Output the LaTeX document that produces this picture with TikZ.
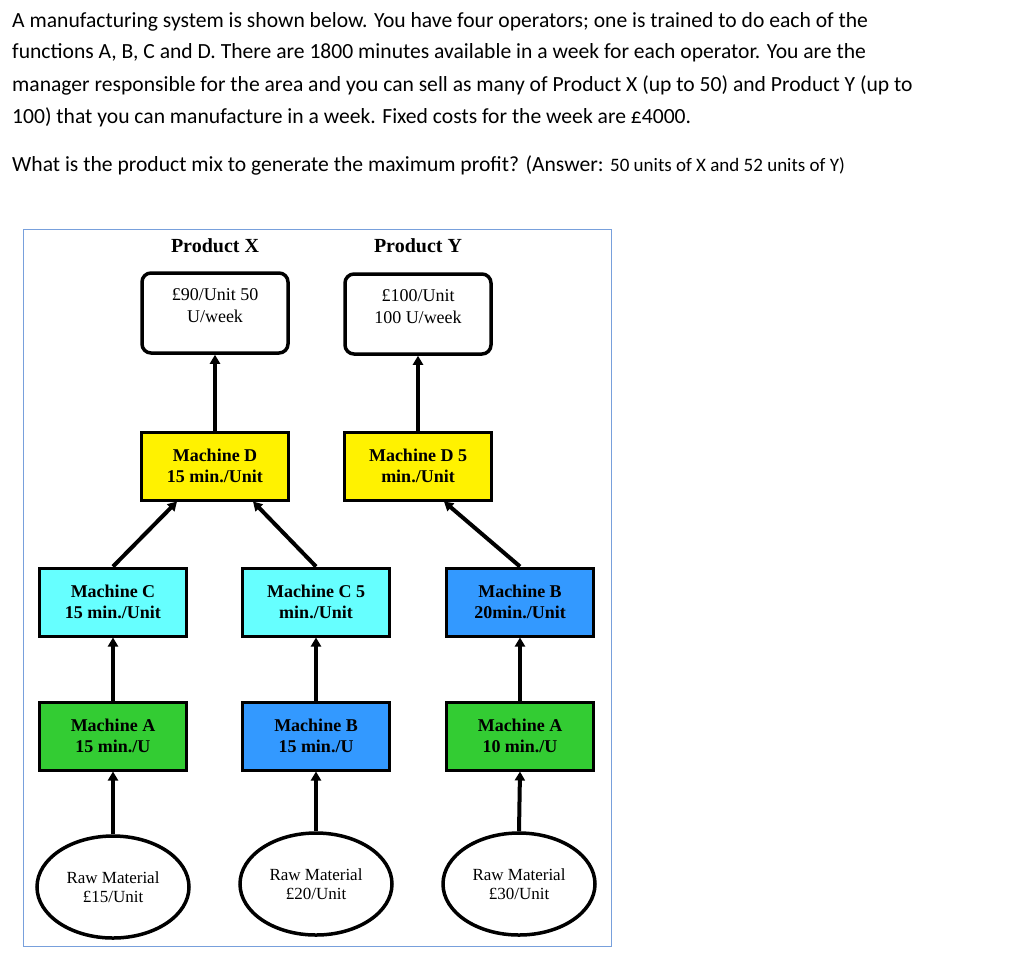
\documentclass[tikz,border=0pt]{standalone}
\usepackage{fontspec}
\setmainfont{Liberation Serif}
\newfontfamily\calfont{Carlito}
\usetikzlibrary{shapes.geometric,arrows.meta}
\begin{document}
\begin{tikzpicture}[x=1pt,y=-1pt,
 box/.style={draw,line width=3pt,minimum width=147pt,minimum height=68pt,align=center,font=\fontsize{18}{21}\selectfont\bfseries,inner sep=2pt},
 prod/.style={draw,line width=3.5pt,rounded corners=9pt,minimum width=146pt,minimum height=80pt,align=center,font=\fontsize{18}{22}\selectfont,text depth=14pt},
 raw/.style={draw,ellipse,line width=3.5pt,minimum width=152pt,minimum height=102pt,align=center,font=\fontsize{17}{19}\selectfont},
 arr/.style={line width=4pt,-{Triangle[length=9pt,width=10pt]}},
 qtext/.style={anchor=west,font=\calfont\fontsize{21.6}{24}\selectfont,inner sep=0pt}]
\useasboundingbox (0,0) rectangle (1024,967);
\node[qtext] (t1) at (12,22) {A manufacturing system is shown below. You have four operators; one is trained to do each of the};
\node[qtext] (t2) at (12,53) {functions A, B, C and D. There are 1800 minutes available in a week for each operator. You are the};
\node[qtext] (t3) at (12,85) {manager responsible for the area and you can sell as many of Product X (up to 50) and Product Y (up to};
\node[qtext] (t4) at (12,117) {100) that you can manufacture in a week. Fixed costs for the week are £4000.};
\node[qtext] (t5) at (12,165) {What is the product mix to generate the maximum profit? (Answer: {\fontsize{19}{20}\selectfont 50 units of X and 52 units of Y)}};
\draw[draw={rgb,255:red,120;green,160;blue,220},line width=1pt] (23,229) rectangle (611,946);
\node[font=\fontsize{20}{22}\selectfont\bfseries] (px) at (215,246) {Product X};
\node[font=\fontsize{20}{22}\selectfont\bfseries] (py) at (418,246) {Product Y};
\node[prod] (bx) at (215,313) {£90/Unit 50\\U/week};
\node[prod] (by) at (418,314) {£100/Unit\\100 U/week};
\node[box,fill=yellow] (dx) at (215,466) {Machine D\\15 min./Unit};
\node[box,fill=yellow] (dy) at (418,466) {Machine D 5\\min./Unit};
\node[box,fill={rgb,255:red,102;green,255;blue,255}] (c1) at (113,602) {Machine C\\15 min./Unit};
\node[box,fill={rgb,255:red,102;green,255;blue,255}] (c2) at (316,602) {Machine C 5\\min./Unit};
\node[box,fill={rgb,255:red,51;green,153;blue,255}] (b3) at (520,602) {Machine B\\20min./Unit};
\node[box,fill={rgb,255:red,51;green,204;blue,51}] (a1) at (113,736) {Machine A\\15 min./U};
\node[box,fill={rgb,255:red,51;green,153;blue,255}] (a2) at (316,736) {Machine B\\15 min./U};
\node[box,fill={rgb,255:red,51;green,204;blue,51}] (a3) at (520,736) {Machine A\\10 min./U};
\node[raw] (r1) at (113,887) {Raw Material\\£15/Unit};
\node[raw] (r2) at (316,884) {Raw Material\\£20/Unit};
\node[raw] (r3) at (519,884) {Raw Material\\£30/Unit};
\draw[arr] (r1.north) -- (a1.south);
\draw[arr] (r2.north) -- (a2.south);
\draw[arr] (r3.north) -- (a3.south);
\draw[arr] (a1.north) -- (c1.south);
\draw[arr] (a2.north) -- (c2.south);
\draw[arr] (a3.north) -- (b3.south);
\draw[arr] (c1.north) -- ([xshift=37pt]dx.south west);
\draw[arr] (c2.north) -- ([xshift=-37pt]dx.south east);
\draw[arr] (b3.north) -- ([xshift=26pt]dy.south);
\draw[arr] (dx.north) -- (bx.south);
\draw[arr] (dy.north) -- (by.south);
\end{tikzpicture}
\end{document}
